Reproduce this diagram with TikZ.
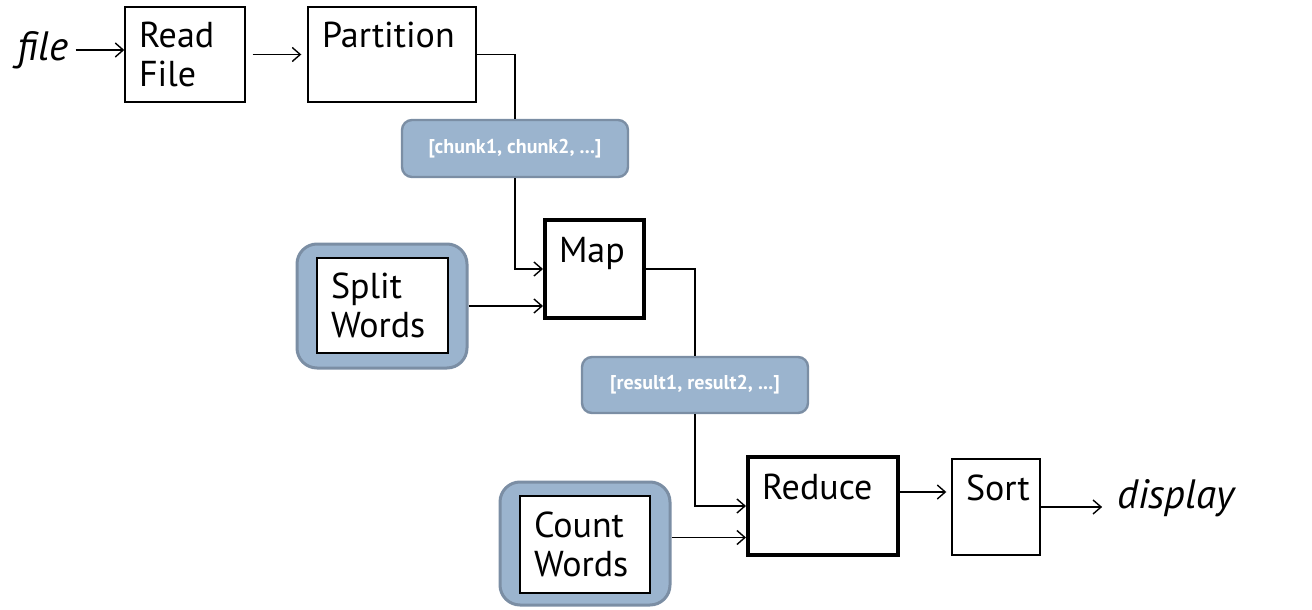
\documentclass[tikz,border=0pt]{standalone}
\usepackage{fontspec}
\setmainfont{PT Sans}
\usetikzlibrary{arrows.meta,calc}
\definecolor{boxblue}{HTML}{9BB4CE}
\definecolor{edgeblue}{HTML}{7B8EA4}

\begin{document}
\begin{tikzpicture}[x=0.5pt,y=-0.5pt,>={Straight Barb[length=4pt,width=7pt]},font=\fontsize{18}{19.5}\selectfont,
  block/.style={rectangle, draw, line width=0.7pt, fill=white, align=left, inner xsep=7pt, inner ysep=0pt},
  heavy/.style={block, line width=2pt},
  tray/.style={rectangle, draw=edgeblue, line width=1.5pt, fill=boxblue, rounded corners=10pt},
  tag/.style={rectangle, draw=edgeblue, line width=1.2pt, fill=boxblue, rounded corners=5pt, text=white, font=\fontsize{10}{12}\selectfont\bfseries},
  io/.style={font=\fontsize{20.5}{22}\selectfont\itshape},
  link/.style={line width=0.7pt}]
\useasboundingbox (0,0) rectangle (1312,610);
\draw (43,50) node[io] (file) {file};
\draw (185,54.5) node[block, text width=46pt, minimum height=47.5pt] (read) {Read\\File};
\draw (392,54.5) node[block, text width=70pt, minimum height=47.5pt] (part) {Partition\\\mbox{}};
\draw (515,148.5) node[tag, minimum width=113pt, minimum height=28.5pt] (chunks) {[chunk1, chunk2, ...]};
\draw (382,306) node[tray, minimum width=85pt, minimum height=62pt] (split) {};
\draw (382.5,305.5) node[block, text width=51.5pt, minimum height=47.5pt] (splitin) {Split\\Words};
\draw (594.5,269) node[heavy, text width=35.5pt, minimum height=49pt] (map) {Map\\\mbox{}};
\draw (695,385) node[tag, minimum width=113pt, minimum height=28pt] (results) {[result1, result2, ...]};
\draw (585,543.5) node[tray, minimum width=85pt, minimum height=61.5pt] (count) {};
\draw (585,544.5) node[block, text width=51pt, minimum height=48.5pt] (countin) {Count\\Words};
\draw (823,506) node[heavy, text width=61pt, minimum height=49pt] (reduce) {Reduce\\\mbox{}};
\draw (996,507) node[block, text width=30pt, minimum height=48pt] (sort) {Sort\\\mbox{}};
\draw (1176,498) node[io] (display) {display};
% connectors
\draw [link, ->] (file.east) -- (file.east -| read.west);
\draw [link, ->, shorten <=3.5pt, shorten >=3pt] (read) -- (part);
\draw [link] (part.east) -| (chunks.north);
\draw [link, ->] (chunks.south) |- (map.west);
\draw [link, ->] (split.east) -- (split.east -| map.west);
\draw [link] (map.east) -| (results.north);
\draw [link, ->] (results.south) |- (reduce.west);
\draw [link, ->] ([yshift=3pt]count.east) -- ([yshift=3pt]count.east -| reduce.west);
\draw [link, ->, shorten >=2.5pt] ([yshift=7pt]reduce.east) -- ([yshift=7pt]reduce.east -| sort.west);
\draw [link, ->, shorten >=4pt] (sort.east) -- (sort.east -| display.west);
\end{tikzpicture}
\end{document}
